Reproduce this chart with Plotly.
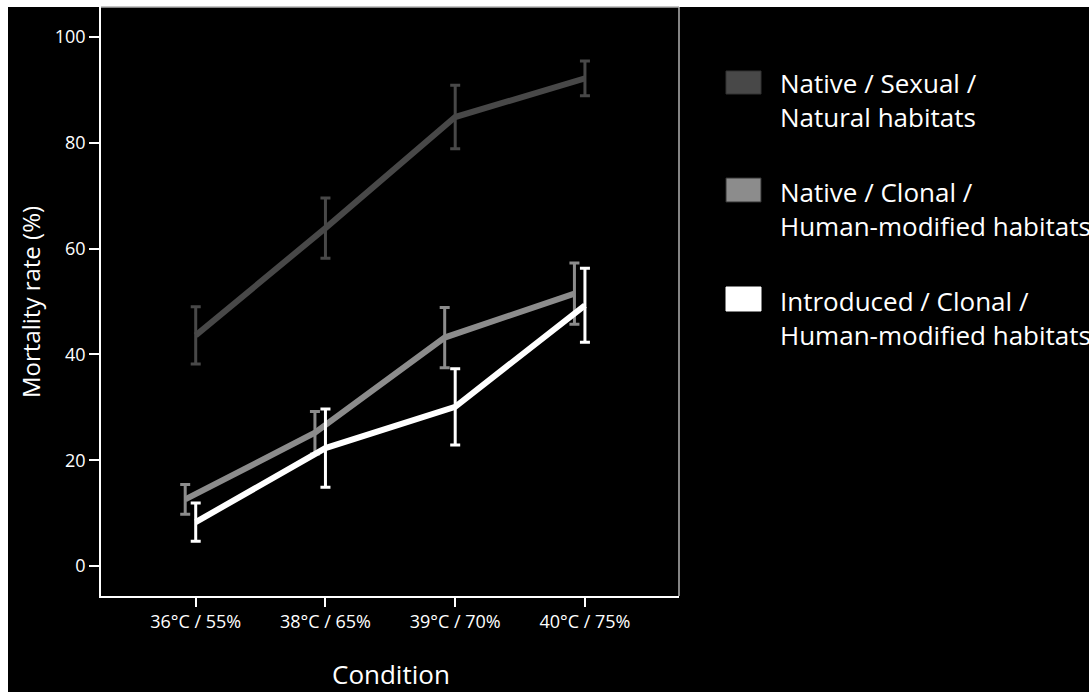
import plotly.graph_objects as go

# ---- data ----
conditions = ["36°C / 55%", "38°C / 65%", "39°C / 70%", "40°C / 75%"]
series_names = [
    "Native / Sexual /<br>Natural habitats",
    "Native / Clonal /<br>Human-modified habitats",
    "Introduced / Clonal /<br>Human-modified habitats",
]
native_sexual = [43.6, 63.9, 84.9, 92.2]
native_sexual_err = [5.4, 5.7, 6.0, 3.3]
native_clonal = [12.6, 25.2, 43.2, 51.5]
native_clonal_err = [2.8, 4.0, 5.7, 5.8]
introduced_clonal = [8.3, 22.3, 30.1, 49.3]
introduced_clonal_err = [3.6, 7.4, 7.2, 7.0]
y_ticks = [0, 20, 40, 60, 80, 100]

colors = ["#484848", "#8c8c8c", "#ffffff"]
offsets = [0.0, -0.081, 0.0]
values = [native_sexual, native_clonal, introduced_clonal]
errors = [native_sexual_err, native_clonal_err, introduced_clonal_err]

FONT = "Open Sans"

fig = go.Figure()
for name, vals, errs, col, off in zip(series_names, values, errors, colors, offsets):
    fig.add_trace(go.Scatter(
        x=[i + off for i in range(len(conditions))],
        y=vals,
        mode="lines",
        name=name,
        line=dict(color=col, width=6),
        error_y=dict(type="data", array=errs, visible=True, color=col,
                     thickness=3, width=5),
        showlegend=False,
    ))

# plot geometry in pixels
W, H = 1091, 692
L, R, T, B = 101, 679, 7, 596
pw, ph = R - L, B - T


def px(x):
    return (x - L) / pw


def py(y):
    return (B - y) / ph


shapes = []
# black background with thin white page margin
shapes.append(dict(type="rect", xref="paper", yref="paper", layer="below",
                   x0=px(8), x1=px(1089), y0=py(692), y1=py(7),
                   fillcolor="black", line=dict(width=0)))
# top and right frame lines (gray)
shapes.append(dict(type="line", xref="paper", yref="paper",
                   x0=0, x1=1, y0=1, y1=1, line=dict(color="#b0b0b0", width=1.5)))
shapes.append(dict(type="line", xref="paper", yref="paper",
                   x0=1, x1=1, y0=0, y1=1, line=dict(color="#b0b0b0", width=1.5)))

# legend swatches
legend_rows = [(71, 94, 100), (178, 202, 209), (287, 311, 318)]
annotations = []
for (top, bot, mid), col, name in zip(legend_rows, colors, series_names):
    shapes.append(dict(type="rect", xref="paper", yref="paper",
                       x0=px(726), x1=px(761), y0=py(bot), y1=py(top),
                       fillcolor=col, line=dict(color="#333333" if col != "#ffffff" else col, width=1)))
    annotations.append(dict(xref="paper", yref="paper", x=px(778), y=py(mid),
                            xanchor="left", yanchor="middle", align="left",
                            text=name, showarrow=False,
                            font=dict(family=FONT, size=26, color="white")))

annotations.append(dict(xref="paper", yref="paper", x=px(391), y=py(674),
                        xanchor="center", yanchor="middle", text="Condition",
                        showarrow=False, font=dict(family=FONT, size=26, color="white")))
annotations.append(dict(xref="paper", yref="paper", x=px(30), y=py(302),
                        xanchor="center", yanchor="middle", text="Mortality rate (%)",
                        textangle=-90, showarrow=False,
                        font=dict(family=FONT, size=24, color="white")))

fig.update_layout(
    width=W, height=H,
    margin=dict(l=L, r=W - R, t=T, b=H - B, pad=0),
    paper_bgcolor="white",
    plot_bgcolor="black",
    shapes=shapes,
    annotations=annotations,
    font=dict(family=FONT, color="white"),
)
fig.update_xaxes(
    range=[-0.73, 3.725],
    tickmode="array", tickvals=list(range(len(conditions))), ticktext=conditions,
    showgrid=False, zeroline=False,
    showline=True, linecolor="white", linewidth=1.5,
    ticks="outside", ticklen=9, tickwidth=1.5, tickcolor="white",
    tickfont=dict(family=FONT, size=18, color="white"),
)
fig.update_yaxes(
    range=[-5.67, 105.7],
    tickmode="array", tickvals=y_ticks,
    showgrid=False, zeroline=False,
    showline=True, linecolor="white", linewidth=1.5,
    ticks="outside", ticklen=10, tickwidth=1.5, tickcolor="white",
    tickfont=dict(family=FONT, size=18, color="white"),
)

fig.write_html("out.html")
